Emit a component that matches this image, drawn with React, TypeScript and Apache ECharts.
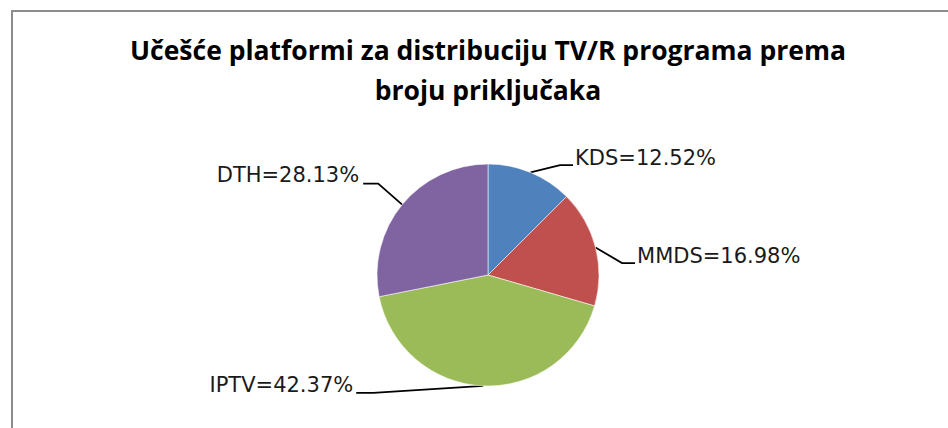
import React, { useEffect, useRef } from "react";
import * as echarts from "echarts";

const titleLines = ["Učešće platformi za distribuciju TV/R programa prema", "broju priključaka"];
const categories = ["KDS", "MMDS", "IPTV", "DTH"];
const shares = [12.52, 16.98, 42.37, 28.13];
const colors = ["#4F81BD", "#C0504D", "#9BBB59", "#8064A2"];

// label leader-line styling: elbow offset from slice edge, horizontal tail, text side
const labelStyles = [
  { elbow: [29.5, -7.4], tail: 13, side: "right", gap: 2, textDy: -7.5 },
  { elbow: [26.5, 15.6], tail: 13, side: "right", gap: 2, textDy: -7.5 },
  { elbow: [-110, 7], tail: 17, side: "left", gap: 3, textDy: -7.5 },
  { elbow: [-24, -21], tail: 15, side: "left", gap: 4, textDy: -8.5 },
];

export default function App() {
  const ref = useRef<HTMLDivElement>(null);
  useEffect(() => {
    if (!ref.current) return;
    const chart = echarts.init(ref.current, null, { renderer: "svg" });
    chart.setOption({
      animation: false,
      backgroundColor: "#ffffff",
      graphic: [
        {
          type: "rect",
          shape: { x: 12, y: 11, width: 980, height: 460 },
          style: { fill: "none", stroke: "#8c8c8c", lineWidth: 2 },
          silent: true,
        },
        {
          type: "text",
          x: 488,
          y: 30,
          style: {
            text: titleLines.join("\n"),
            font: "bold 26.5px 'Open Sans'",
            fill: "#000000",
            textAlign: "center",
            textVerticalAlign: "top",
            lineHeight: 40,
          },
          silent: true,
        },
      ],
      series: [
        {
          type: "pie",
          center: [488, 275],
          radius: 111,
          startAngle: 90,
          clockwise: true,
          avoidLabelOverlap: false,
          silent: true,
          data: categories.map((name, i) => ({
            name,
            value: shares[i],
            itemStyle: { color: colors[i] },
          })),
          itemStyle: { borderColor: "rgba(255,255,255,0.55)", borderWidth: 1 },
          label: {
            show: true,
            position: "outside",
            formatter: "{b}={c}%",
            fontFamily: "'DejaVu Sans'",
            fontSize: 21,
            color: "#1a1a1a",
          },
          labelLine: {
            show: true,
            length: 20,
            length2: 12,
            lineStyle: { color: "#000000", width: 1.8 },
          },
          labelLayout: (p: any) => {
            const pts = p.labelLinePoints;
            const o = labelStyles[p.dataIndex];
            if (!pts || !o) return {};
            const e = pts[0];
            const m = [e[0] + o.elbow[0], e[1] + o.elbow[1]];
            const n = [m[0] + (o.side === "right" ? o.tail : -o.tail), m[1]];
            return {
              x: o.side === "right" ? n[0] + o.gap : n[0] - o.gap,
              y: n[1] + o.textDy,
              align: o.side === "right" ? "left" : "right",
              verticalAlign: "middle",
              labelLinePoints: [e, m, n],
            };
          },
        },
      ],
    });
    return () => chart.dispose();
  }, []);
  return (
    <div
      ref={ref}
      style={{ position: "fixed", left: 0, top: 0, width: 948, height: 428 }}
    />
  );
}
